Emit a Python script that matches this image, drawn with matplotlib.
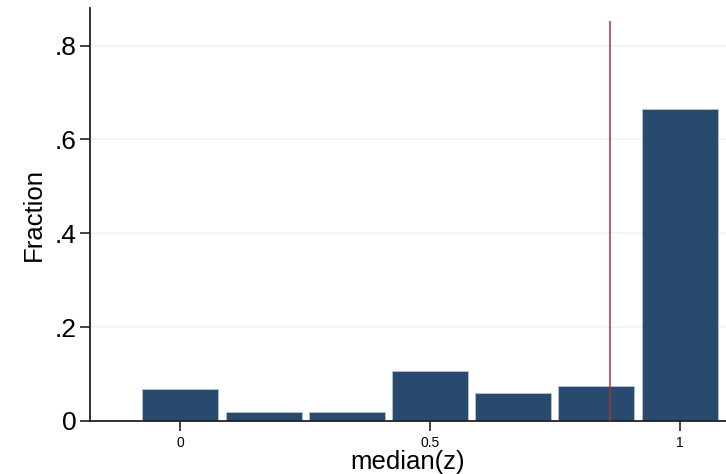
import numpy as np
import matplotlib
matplotlib.use('Agg')
import matplotlib.pyplot as plt

plt.rcParams['font.family'] = ['Liberation Sans', 'DejaVu Sans']

# histogram of median(z), 6 bins of width 1/6 centred at 0..1
binCenters = [0, 1/6, 2/6, 3/6, 4/6, 5/6, 1]
fractions = [0.067, 0.019, 0.019, 0.107, 0.060, 0.075, 0.664]
refLine = 0.86
yTicks = [0, 0.2, 0.4, 0.6, 0.8]
yTickLabels = ['0', '.2', '.4', '.6', '.8']
xTicks = [0, 0.5, 1]
xTickLabels = ['0', '0.5', '1']

barColor = '#284a6f'
lineColor = '#a0343a'
gridColor = '#eef4f5'

fig = plt.figure('hist', figsize=(7.26, 4.74), dpi=100)
ax = fig.add_axes([0.124, 0.112, 0.876, 0.871])

ax.bar(binCenters, fractions, width=0.152, color=barColor,
       edgecolor='#b8c3cf', linewidth=0.6, zorder=2)
ax.vlines(refLine, 0, 0.853, color=lineColor, linewidth=1.1, zorder=3)

ax.set_xlim(-0.181, 1.093)
ax.set_ylim(0, 0.88)

ax.set_yticks(yTicks)
ax.set_yticklabels(yTickLabels, fontsize=19)
ax.set_xticks(xTicks)
ax.set_xticklabels(xTickLabels, fontsize=10)
ax.tick_params(axis='y', length=7, width=1.2, pad=3, colors='#222222')
ax.tick_params(axis='x', length=7, width=1.2, pad=4, colors='#222222')
for lbl in ax.get_yticklabels() + ax.get_xticklabels():
	lbl.set_color('black')

ax.grid(axis='y', color=gridColor, linewidth=1.2, zorder=0)
ax.set_axisbelow(True)

for side in ['top', 'right']:
	ax.spines[side].set_visible(False)
ax.spines['left'].set_linewidth(1.3)
ax.spines['bottom'].set_linewidth(1.3)
ax.spines['left'].set_color('#222222')
ax.spines['bottom'].set_color('#222222')

ax.set_ylabel('Fraction', fontsize=18.5, labelpad=6)
ax.set_xlabel('median(z)', fontsize=18.5, labelpad=0)

fig.savefig('out.png', dpi=100)
